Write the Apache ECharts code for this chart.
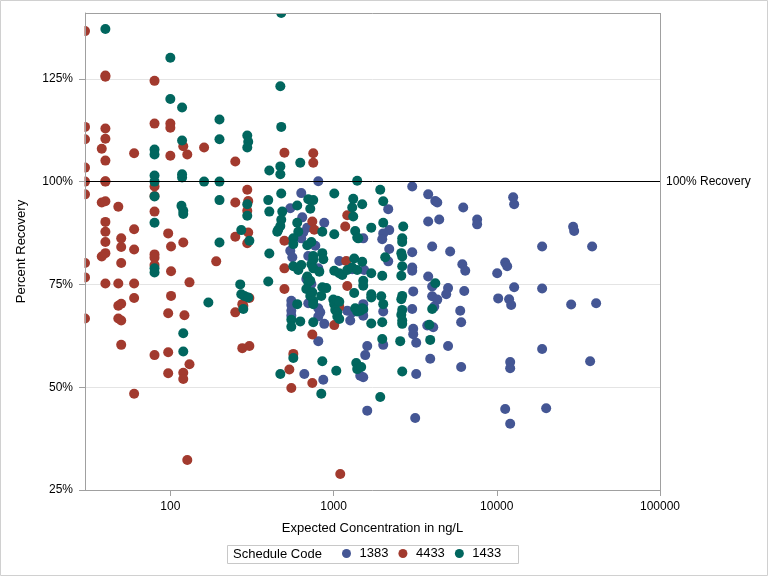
<!DOCTYPE html>
<html><head><meta charset="utf-8">
<script src="https://cdn.jsdelivr.net/npm/echarts@6/dist/echarts.min.js"></script>
<style>html,body{margin:0;padding:0;background:#fff}#c{width:768px;height:576px}</style>
</head><body><div id="c"></div>
<script>
// Schedule code names
const seriesNames = ['1383', '4433', '1433'];
const seriesColors = ['#445694', '#A23A2E', '#01665E'];
// Ticks
const xTicks = [100, 1000, 10000, 100000];
const yTicks = [25, 50, 75, 100, 125];

// Schedule 1383 : expected concentration (ng/L) and percent recovery
const conc1383 = [806,634,543,643,877,690,652,634,1520,559,773,543,559,700,1084,806,1301,1541,681,731,551,551,551,551,700,806,829,806,1213,1301,1520,1265,877,806,1608,1563,1457,662,865,1520,1608,3033,3800,4200,4320,12600,12780,2162,6230,7580,7580,3800,4440,2193,2015,1987,4020,5180,2193,3033,18960,2162,3033,3033,3800,6150,6410,11260,11580,10060,4020,5030,4900,3076,6320,12780,18960,4020,4320,4140,1520,1520,2015,3033,5970,6050,10200,11900,12250,3076,3076,3750,4080,2015,3209,5030,3910,18960,12080,12080,6050,3209,3164,11260,12080,20070,29370,29790,38390,28550,40620,37320];
const rec1383 = [100.1,97.2,93.5,91.3,90.0,88.8,87.6,86.2,86.2,85.6,84.4,83.2,81.6,81.9,80.7,78.9,78.7,78.5,76.3,75.1,71.0,70.0,68.6,67.4,70.4,69.2,68.2,67.2,68.6,68.2,67.4,66.2,65.4,61.2,60.0,57.8,52.8,53.2,51.8,52.4,44.3,98.8,96.9,95.3,94.9,96.2,94.5,93.3,93.7,90.8,89.6,90.3,90.8,88.2,87.4,86.0,84.2,83.0,83.6,82.8,84.2,80.6,79.1,78.3,76.9,79.9,78.3,80.3,79.4,77.7,74.5,74.1,72.6,73.3,73.4,74.3,74.0,72.1,71.3,69.6,70.2,68.8,68.4,69.0,68.6,65.8,71.6,71.4,70.0,64.2,62.9,65.0,64.6,60.3,60.8,60.0,56.9,59.3,56.1,54.6,54.9,53.2,42.5,44.7,41.1,44.9,89.0,88.0,84.2,70.1,70.4,56.3];

// Schedule 4433
const conc4433 = [30,40,40,80,30,30,40,40,38,40,60,80,100,100,120,127,100,30,30,40,40,80,80,30,38,40,48,80,40,40,40,38,40,50,50,60,60,50,30,30,80,80,80,97,101,120,101,131,40,48,60,60,101,48,50,48,50,30,97,122,50,80,97,131,97,120,120,60,127,161,250,500,751,751,296,300,296,250,1213,741,1179,762,300,250,296,500,1196,191,500,500,1213,305,276,280,250,1084,1010,741,276,305,567,536,741,551,1099];
const rec4433 = [136.6,125.8,125.5,124.5,113.3,110.3,112.9,110.4,108.0,105.1,106.9,114.1,114.1,113.1,108.6,106.6,106.3,103.4,100.0,100.0,100.1,98.8,96.5,96.9,94.9,95.2,93.9,92.7,90.2,87.8,85.3,81.8,82.6,86.2,84.1,88.4,83.5,80.2,80.2,76.7,82.3,81.5,79.7,87.4,84.2,85.2,78.2,75.5,75.2,75.2,75.2,71.7,72.2,69.8,70.3,66.7,66.2,66.7,68.0,67.5,60.3,57.8,58.5,55.6,53.4,53.5,52.0,48.4,32.3,108.3,104.9,107.0,106.9,104.6,98.0,95.3,92.9,94.9,91.8,90.3,89.1,88.3,87.6,86.6,85.0,85.6,80.7,80.6,78.9,73.9,74.6,71.7,70.2,69.8,68.2,69.6,65.1,62.8,59.5,60.0,58.1,54.3,51.0,49.8,28.9];

// Schedule 1433
const conc1433 = [40,100,100,118,118,80,80,80,80,80,118,118,80,117,120,120,80,80,120,120,478,472,200,478,200,296,300,296,625,472,472,404,161,200,1396,478,700,751,1010,1320,1932,200,398,296,296,404,1498,1301,599,720,485,1320,599,478,472,458,452,1702,608,853,1010,1357,1396,1416,272,305,200,567,567,690,731,404,751,751,853,865,1338,1498,567,608,634,731,751,818,1010,1084,1131,1213,1301,1396,1702,690,720,700,1520,1520,398,268,681,853,902,741,720,1338,1702,1702,1959,272,284,300,280,171,841,599,751,751,996,1010,1054,1084,1024,1054,1054,1084,1357,1457,1498,1396,1702,551,551,625,751,567,853,1377,1396,1039,472,841,1932,2015,2015,2672,2634,2634,2600,2634,2073,1987,2634,2600,4200,2634,2600,1520,2015,2634,2600,2634,2634,4020,1987,3860,1987,2561,3910,1477,2634];
const rec1433 = [137.1,130.1,120.1,118.0,110.0,107.8,106.6,101.5,100.0,96.4,101.8,101.0,90.0,94.1,92.9,92.1,78.9,77.9,63.1,58.7,141.0,123.2,115.1,113.3,110.3,111.2,109.7,108.3,104.6,103.7,101.8,102.7,100.0,100.0,100.2,97.1,95.7,95.5,97.1,95.8,98.0,95.5,95.5,94.5,91.7,92.7,94.5,93.7,94.2,93.4,92.7,91.5,90.0,90.7,89.2,88.3,87.8,88.8,87.8,87.8,87.2,88.0,86.4,86.2,88.2,85.6,85.2,86.2,84.8,84.5,85.3,82.5,81.9,81.0,82.6,81.1,81.3,80.5,79.4,78.5,79.7,79.9,78.9,78.1,78.3,77.7,77.3,78.5,79.1,78.5,77.7,76.9,75.9,75.5,75.9,74.7,75.7,75.0,73.9,74.3,74.1,73.1,72.2,72.9,72.6,71.8,72.1,72.6,72.2,71.8,69.0,70.6,72.2,70.2,71.0,70.2,71.3,70.2,71.0,70.8,68.8,68.2,67.2,66.6,69.2,68.6,69.2,68.4,65.5,66.4,64.7,66.0,65.8,57.1,56.3,55.9,54.4,54.0,53.2,48.4,47.6,95.2,90.0,89.1,86.2,85.3,82.6,81.8,81.6,77.1,79.4,77.1,75.3,72.2,71.4,69.0,70.2,68.8,67.6,66.2,65.4,69.0,65.8,65.2,61.7,61.2,61.5,54.9,53.8];

const FONT = "'Liberation Sans', Arial, sans-serif";
const pairs = (xs, ys) => xs.map((x, i) => [x, ys[i]]);
const allData = [pairs(conc1383, rec1383), pairs(conc4433, rec4433), pairs(conc1433, rec1433)];

const GL = 85, GR = 108, GT = 13, GB = 86, W = 768, H = 576;

const chart = echarts.init(document.getElementById('c'), null, {renderer: 'canvas'});
const series = seriesNames.map((n, i) => ({
  name: n, type: 'scatter', data: allData[i], symbol: 'circle', symbolSize: 10,
  itemStyle: {color: seriesColors[i], opacity: 1}, z: 3, clip: true, yAxisIndex: 0
}));
series.unshift({
  name: 'ref', type: 'scatter', data: [], z: 2, yAxisIndex: 0,
  markLine: {
    silent: true, symbol: 'none', animation: false,
    lineStyle: {color: '#000', width: 1, type: 'solid'},
    label: {show: true, position: 'end', formatter: '100% Recovery', color: '#000', fontSize: 12, fontFamily: FONT, distance: 6},
    data: [{yAxis: 100}]
  }
});

chart.setOption({
  animation: false,
  backgroundColor: '#fff',
  grid: {left: GL, right: GR, top: GT, bottom: GB, show: false},
  xAxis: {
    type: 'log', logBase: 10, min: 30, max: 100000, z: 6,
    name: 'Expected Concentration in ng/L', nameLocation: 'middle', nameGap: 32,
    nameTextStyle: {color: '#000', fontSize: 13, fontFamily: FONT},
    axisLine: {show: true, lineStyle: {color: '#a0a0a0'}},
    axisTick: {show: true, length: 6, lineStyle: {color: '#a0a0a0'}, customValues: xTicks},
    axisLabel: {color: '#000', fontSize: 12, fontFamily: FONT, margin: 11, customValues: xTicks,
      formatter: v => xTicks.some(t => Math.abs(t - v) / t < 1e-6) ? String(Math.round(v)) : ''},
    splitLine: {show: false}, minorTick: {show: false}
  },
  yAxis: [{
    type: 'value', min: 25, max: 141, interval: 25, z: 6, position: 'left',
    name: 'Percent Recovery', nameLocation: 'middle', nameGap: 57,
    nameTextStyle: {color: '#000', fontSize: 13, fontFamily: FONT},
    axisLine: {show: true, lineStyle: {color: '#a0a0a0'}},
    axisTick: {show: true, length: 6, lineStyle: {color: '#a0a0a0'}, customValues: yTicks},
    axisLabel: {color: '#000', fontSize: 12, fontFamily: FONT, margin: 12, customValues: yTicks,
      formatter: '{value}%'},
    splitLine: {show: false}
  }, {
    // gridlines only, drawn beneath the marks
    type: 'value', min: 25, max: 141, interval: 25, z: 0, position: 'left',
    axisLine: {show: false}, axisTick: {show: false, customValues: yTicks},
    axisLabel: {show: false, customValues: yTicks},
    splitLine: {show: true, lineStyle: {color: '#e4e4e4', width: 1}}
  }],
  legend: {
    data: seriesNames, left: 342, top: 547, padding: 0, itemGap: 10,
    itemWidth: 16, itemHeight: 9, icon: 'circle',
    textStyle: {color: '#000', fontSize: 13, fontFamily: FONT}
  },
  graphic: {
    elements: [
      // masks so that marks are clipped at the plot frame (below the axes)
      {type: 'rect', z: 4, shape: {x: 1, y: GT, width: GL - 1.5, height: H - GT - GB}, style: {fill: '#fff'}, silent: true},
      {type: 'rect', z: 4, shape: {x: 1, y: 1, width: W - 2, height: GT - 0.5}, style: {fill: '#fff'}, silent: true},
      // plot frame top / right
      {type: 'line', z: 101, shape: {x1: GL, y1: GT + 0.5, x2: W - GR + 0.5, y2: GT + 0.5}, style: {stroke: '#a0a0a0', lineWidth: 1}, silent: true},
      {type: 'line', z: 101, shape: {x1: W - GR + 0.5, y1: GT, x2: W - GR + 0.5, y2: H - GB}, style: {stroke: '#a0a0a0', lineWidth: 1}, silent: true},
      // outer frame
      {type: 'rect', z: 101, shape: {x: 0.5, y: 0.5, width: 767, height: 575}, style: {fill: 'none', stroke: '#d0d0d0', lineWidth: 1}, silent: true},
      // legend box and title
      {type: 'rect', z: 101, shape: {x: 227.5, y: 545.5, width: 291, height: 18}, style: {fill: 'none', stroke: '#c8c8c8', lineWidth: 1}, silent: true},
      {type: 'text', z: 101, x: 233, y: 554.5, style: {text: 'Schedule Code', fill: '#000', font: "13px 'Liberation Sans', Arial, sans-serif", textVerticalAlign: 'middle'}, silent: true}
    ]
  },
  series: series
});
</script></body></html>
